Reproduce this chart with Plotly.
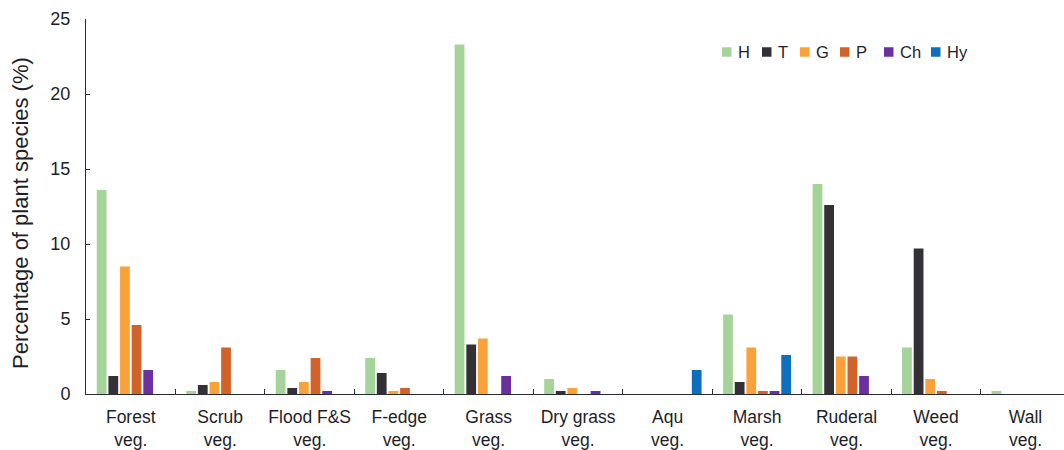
import plotly.graph_objects as go

categories = ["Forest<br>veg.", "Scrub<br>veg.", "Flood F&S<br>veg.", "F-edge<br>veg.",
              "Grass<br>veg.", "Dry grass<br>veg.", "Aqu<br>veg.", "Marsh<br>veg.",
              "Ruderal<br>veg.", "Weed<br>veg.", "Wall<br>veg."]

series_names = ["H", "T", "G", "P", "Ch", "Hy"]
H  = [13.6, 0.2, 1.6, 2.4, 23.3, 1.0, 0.0, 5.3, 14.0, 3.1, 0.2]
T  = [1.2, 0.6, 0.4, 1.4, 3.3, 0.2, 0.0, 0.8, 12.6, 9.7, 0.0]
G  = [8.5, 0.8, 0.8, 0.2, 3.7, 0.4, 0.0, 3.1, 2.5, 1.0, 0.0]
P  = [4.6, 3.1, 2.4, 0.4, 0.0, 0.0, 0.0, 0.2, 2.5, 0.2, 0.0]
Ch = [1.6, 0.0, 0.2, 0.0, 1.2, 0.2, 0.0, 0.2, 1.2, 0.0, 0.0]
Hy = [0.0, 0.0, 0.0, 0.0, 0.0, 0.0, 1.6, 2.6, 0.0, 0.0, 0.0]
series_values = [H, T, G, P, Ch, Hy]
colors = ["#a5d49a", "#333036", "#f9a23c", "#d0622a", "#6b2fa0", "#0f6fbf"]

y_ticks = [0, 5, 10, 15, 20, 25]
y_title = "Percentage of plant species (%)"

W, HGT = 1064, 450
ML, MR, MT, MB = 86, 0, 19, 56
PW, PH = W - ML - MR, HGT - MT - MB

def px_to_paper_x(px):
    return (px - ML) / PW

def px_to_paper_y(py):
    return (HGT - MB - py) / PH

fig = go.Figure()
for name, vals, col in zip(series_names, series_values, colors):
    fig.add_trace(go.Bar(name=name, x=categories, y=vals, marker_color=col,
                         marker_line_width=0, showlegend=False))

# compact legend (square swatch + label), laid out like the reference
legend_swatch_left = [722, 762, 800, 840, 884, 931]
legend_center_y = 52
swatch = 9.5
for name, col, sx in zip(series_names, colors, legend_swatch_left):
    fig.add_shape(type="rect", xref="paper", yref="paper",
                  x0=px_to_paper_x(sx), x1=px_to_paper_x(sx + swatch),
                  y0=px_to_paper_y(legend_center_y + swatch / 2),
                  y1=px_to_paper_y(legend_center_y - swatch / 2),
                  fillcolor=col, line_width=0)
    fig.add_annotation(xref="paper", yref="paper", x=px_to_paper_x(sx + swatch + 4),
                       y=px_to_paper_y(legend_center_y), text=name, showarrow=False,
                       xanchor="left", yanchor="middle", font=dict(size=16.5))

# y-axis title placed like the reference
fig.add_annotation(xref="paper", yref="paper", x=px_to_paper_x(20), y=px_to_paper_y(213),
                   text=y_title, textangle=-90, showarrow=False,
                   xanchor="center", yanchor="middle", font=dict(size=22))

axis_color = "#2b2b33"
fig.update_layout(
    width=W, height=HGT,
    margin=dict(l=ML, r=MR, t=MT, b=MB, autoexpand=False),
    paper_bgcolor="white", plot_bgcolor="white",
    font=dict(family="Liberation Sans, Arial, sans-serif", color="#1e1e28", size=17),
    barmode="group", bargap=0.22, bargroupgap=0.16,
    xaxis=dict(type="category", range=[-0.5, 10.43], showline=True, linecolor=axis_color,
               linewidth=1, ticks="inside", tickson="boundaries", ticklen=5,
               tickcolor=axis_color, showgrid=False, tickfont=dict(size=17.5),
               tickangle=0, ticklabelstandoff=7),
    yaxis=dict(range=[0, 25], tickvals=y_ticks, showline=True, linecolor=axis_color,
               linewidth=1, ticks="inside", ticklen=4, tickcolor=axis_color,
               showgrid=False, zeroline=False, tickfont=dict(size=18),
               ticklabelstandoff=11),
)

fig.write_html("out.html", config={"displayModeBar": False},
               post_script="document.body.style.margin='0';document.body.style.overflow='hidden';")
